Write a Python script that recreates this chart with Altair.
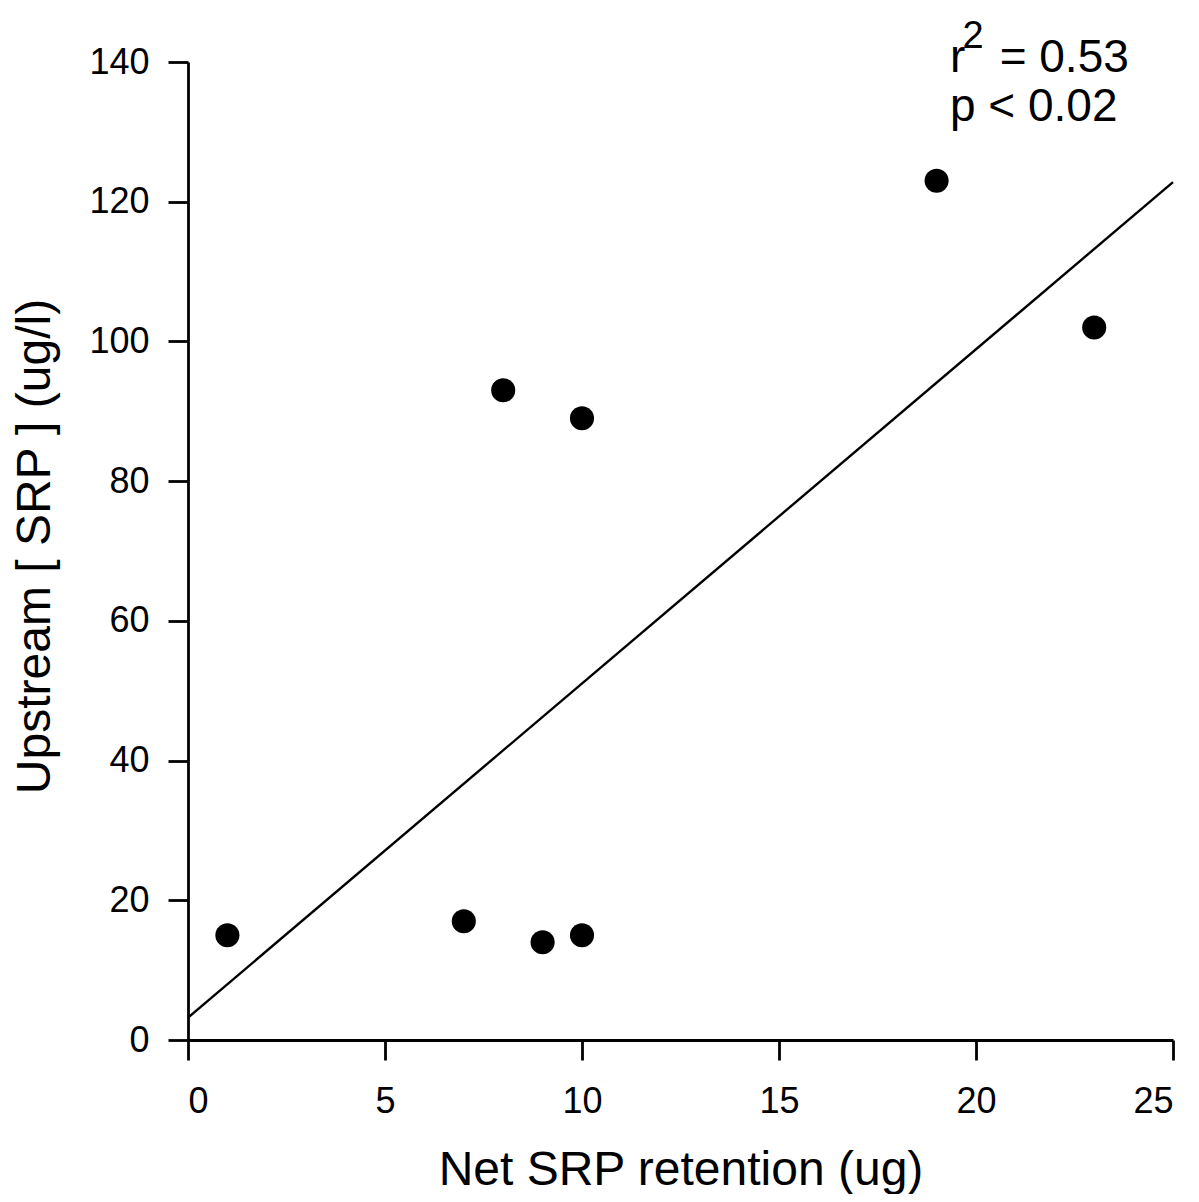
import altair as alt
import pandas as pd

# Data
net_srp_retention = [1, 7, 8, 9, 10, 10, 19, 23]
upstream_srp = [15, 17, 93, 14, 89, 15, 123, 102]
fit_x = [0, 25]
fit_y = [3.2, 122.8]

# annotation texts (data-space anchors)
ann_text = ["r", "= 0.53", "p < 0.02"]
ann_x = [19.34, 20.6, 19.34]
ann_y = [138.6, 138.6, 131.6]
sup_text = ["2"]
sup_x = [19.66]
sup_y = [142.0]

FONT = "Liberation Sans"

pts = pd.DataFrame({"x": net_srp_retention, "y": upstream_srp})
fit = pd.DataFrame({"x": fit_x, "y": fit_y})
ann = pd.DataFrame({"x": ann_x, "y": ann_y, "t": ann_text})
sup = pd.DataFrame({"x": sup_x, "y": sup_y, "t": sup_text})

xscale = alt.Scale(domain=[0, 25], nice=False, zero=False)
yscale = alt.Scale(domain=[0, 140], nice=False, zero=False)

xaxis = alt.Axis(
    values=[0, 5, 10, 15, 20, 25], title="Net SRP retention (ug)",
    grid=False, tickSize=20, tickWidth=2.8, domainWidth=2.8,
    domainColor="black", tickColor="black",
    labelFontSize=36, labelFont=FONT, labelColor="black", labelPadding=24,
    titleFontSize=48, titleFont=FONT, titleColor="black", titleFontWeight="normal",
    titleBaseline="alphabetic", titleY=144,
)
yaxis = alt.Axis(
    values=[0, 20, 40, 60, 80, 100, 120, 140], title="Upstream [ SRP ] (ug/l)",
    grid=False, tickSize=20, tickWidth=2.8, domainWidth=2.8,
    domainColor="black", tickColor="black",
    labelFontSize=36, labelFont=FONT, labelColor="black", labelPadding=19,
    titleFontSize=48, titleFont=FONT, titleColor="black", titleFontWeight="normal",
    titleBaseline="alphabetic", titleX=-139, titleY=484,
)

points = alt.Chart(pts).mark_circle(size=580, color="black", opacity=1).encode(
    x=alt.X("x:Q", scale=xscale, axis=xaxis),
    y=alt.Y("y:Q", scale=yscale, axis=yaxis),
)

line = alt.Chart(fit).mark_line(color="black", strokeWidth=2.4).encode(
    x=alt.X("x:Q", scale=xscale),
    y=alt.Y("y:Q", scale=yscale),
)

txt = alt.Chart(ann).mark_text(
    align="left", baseline="alphabetic", fontSize=46, font=FONT, color="black"
).encode(x=alt.X("x:Q", scale=xscale), y=alt.Y("y:Q", scale=yscale), text="t:N")

suptxt = alt.Chart(sup).mark_text(
    align="left", baseline="alphabetic", fontSize=38, font=FONT, color="black"
).encode(x=alt.X("x:Q", scale=xscale), y=alt.Y("y:Q", scale=yscale), text="t:N")

chart = alt.layer(line, points, txt, suptxt).properties(
    width=985, height=978,
    autosize=alt.AutoSizeParams(type="none"),
    padding={"left": 180, "top": 54, "right": 14, "bottom": 154},
    background="white",
).configure_view(stroke=None, strokeWidth=0)

chart.save("out.html", embed_options={"renderer": "svg", "actions": False})
